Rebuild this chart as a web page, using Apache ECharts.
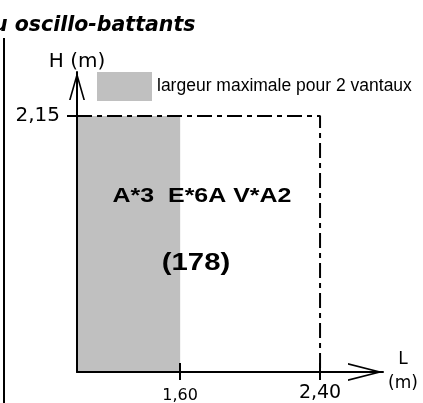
<!DOCTYPE html>
<html><head><meta charset="utf-8">
<script src="https://cdn.jsdelivr.net/npm/echarts@6/dist/echarts.min.js"></script>
<style>html,body{margin:0;padding:0;background:#fff}#c{width:423px;height:403px}</style>
</head><body><div id="c"></div>
<script>
// ---- data ----
const titleText = 'u oscillo-battants';
const legendLabel = 'largeur maximale pour 2 vantaux';
const xAxisRange = [1.01, 2.76];
const yAxisRange = [0, 2.52];
const xTickValues = [1.60, 2.40];
const yTickValues = [2.15];
const shadedWidthMax = 1.60;   // largeur maximale pour 2 vantaux
const frameWidth = 2.40;       // L max
const frameHeight = 2.15;      // H max
const annotationCodes = 'A*3  E*6A V*A2';
const annotationRef = '(178)';
const xName = 'L\n(m)';
const yName = 'H (m)';

const fmt = v => Number(v).toFixed(2).replace('.', ',');
const black = '#000';
const axisFont = 'DejaVu Sans';
const xArrow = 'path://M9,0L18,35L16.35,35L9,6.4L1.65,35L0,35Z';
const yArrow = 'path://M8,0L16,28L14.34,28L8,5.8L1.66,28L0,28Z';

const chart = echarts.init(document.getElementById('c'), null, {renderer: 'canvas'});
chart.setOption({
  animation: false,
  backgroundColor: '#fff',
  grid: {left: 77, right: 40, top: 72, bottom: 31, containLabel: false, outerBoundsMode: 'none'},
  legend: {
    show: true, left: 97, top: 72, padding: 0, icon: 'rect', itemWidth: 55, itemHeight: 29,
    selectedMode: false, data: [legendLabel],
    textStyle: {fontFamily: 'Liberation Sans', fontSize: 17.5, color: black}
  },
  xAxis: [{
    type: 'value', min: xAxisRange[0], max: xAxisRange[1], position: 'bottom', z: 5,
    axisLine: {show: true, onZero: false, lineStyle: {color: black, width: 2},
      symbol: ['none', xArrow], symbolSize: [18, 35], symbolOffset: [0, -17.5]},
    axisTick: {show: true, customValues: xTickValues, length: 8, lineStyle: {color: black, width: 2}},
    axisLabel: {show: true, customValues: [xTickValues[1]], margin: 12, color: black,
      fontFamily: axisFont, fontSize: 19, formatter: fmt},
    splitLine: {show: false},
    name: xName, nameLocation: 'end', nameGap: 20,
    nameTextStyle: {color: black, fontFamily: axisFont, fontSize: 17, align: 'center',
      verticalAlign: 'middle', lineHeight: 24}
  }, {
    type: 'value', min: xAxisRange[0], max: xAxisRange[1], position: 'bottom', z: 5,
    axisLine: {show: false, onZero: false},
    axisTick: {show: true, inside: true, customValues: xTickValues, length: 9, lineStyle: {color: black, width: 2}},
    axisLabel: {show: true, customValues: [xTickValues[0]], margin: 16, color: black,
      fontFamily: axisFont, fontSize: 16, formatter: fmt},
    splitLine: {show: false}
  }],
  yAxis: {
    type: 'value', min: yAxisRange[0], max: yAxisRange[1], z: 5,
    axisLine: {show: true, onZero: false, lineStyle: {color: black, width: 2},
      symbol: ['none', yArrow], symbolSize: [16, 28], symbolOffset: [0, -14]},
    axisTick: {show: true, customValues: yTickValues, length: 10, lineStyle: {color: black, width: 2}},
    axisLabel: {show: true, customValues: yTickValues, margin: 17, color: black,
      fontFamily: axisFont, fontSize: 20, formatter: fmt},
    splitLine: {show: false},
    name: yName, nameLocation: 'end', nameGap: 10,
    nameTextStyle: {color: black, fontFamily: axisFont, fontSize: 20, align: 'center', verticalAlign: 'middle'}
  },
  series: [{
    name: legendLabel, type: 'custom', xAxisIndex: 0, yAxisIndex: 0, z: 1,
    itemStyle: {color: '#c0c0c0'},
    encode: {x: [0, 1], y: [2, 3]},
    data: [[xAxisRange[0], shadedWidthMax, yAxisRange[0], frameHeight]],
    renderItem: function (params, api) {
      const p0 = api.coord([api.value(0), api.value(3)]);
      const p1 = api.coord([api.value(1), api.value(2)]);
      return {type: 'rect', shape: {x: p0[0], y: p0[1], width: p1[0] - p0[0], height: p1[1] - p0[1]},
        style: {fill: api.visual('color')}};
    }
  }, {
    name: 'cadre', type: 'line', xAxisIndex: 0, yAxisIndex: 0, z: 3,
    showSymbol: false, symbol: 'none', silent: true,
    lineStyle: {color: black, width: 2, type: [15, 5, 5, 5]},
    data: [[xAxisRange[0], frameHeight], [frameWidth, frameHeight], [frameWidth, yAxisRange[0]]]
  }],
  graphic: [
    {type: 'line', z: 100, shape: {x1: 4, y1: 38, x2: 4, y2: 403}, style: {stroke: black, lineWidth: 2}},
    {type: 'text', z: 100, x: -7, y: 26,
      style: {text: titleText, fontFamily: 'DejaVu Sans', fontWeight: 'bold', fontStyle: 'italic', fontSize: 20.5,
        fill: black, align: 'left', verticalAlign: 'middle', textAlign: 'left', textVerticalAlign: 'middle'}},
    {type: 'text', z: 100, x: 202, y: 197, scaleX: 1.28,
      style: {text: annotationCodes, fontFamily: 'Liberation Sans', fontWeight: 'bold', fontSize: 19.5,
        fill: black, align: 'center', verticalAlign: 'middle', textAlign: 'center', textVerticalAlign: 'middle'}},
    {type: 'text', z: 100, x: 196, y: 263, scaleX: 1.22,
      style: {text: annotationRef, fontFamily: 'Liberation Sans', fontWeight: 'bold', fontSize: 24,
        fill: black, align: 'center', verticalAlign: 'middle', textAlign: 'center', textVerticalAlign: 'middle'}}
  ]
});
</script>
</body></html>
